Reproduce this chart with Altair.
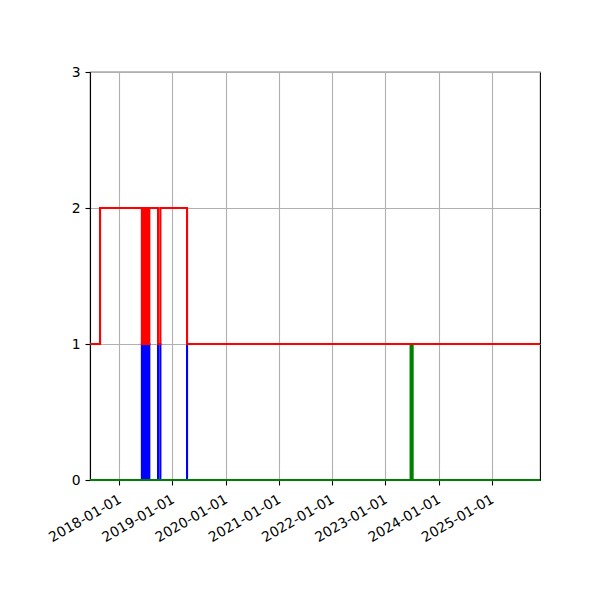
import altair as alt
import pandas as pd

# step series: change dates and the value held from that date on
red_dates = ["2017-06-14", "2017-08-22",
             "2018-06-05", "2018-06-12", "2018-06-16", "2018-06-20", "2018-06-24",
             "2018-06-27", "2018-07-01", "2018-07-05", "2018-07-09", "2018-07-12",
             "2018-07-16", "2018-07-19", "2018-07-22", "2018-07-26",
             "2018-09-24", "2018-10-10", "2019-04-11", "2025-11-27"]
red_values = [1, 2,
              1, 2, 1, 2, 1,
              2, 1, 2, 1, 2,
              1, 2, 1, 2,
              1, 2, 1, 1]

blue_dates = ["2017-06-14",
              "2018-06-05", "2018-06-12", "2018-06-16", "2018-06-20", "2018-06-24",
              "2018-06-27", "2018-07-01", "2018-07-05", "2018-07-09", "2018-07-12",
              "2018-07-16", "2018-07-19", "2018-07-22", "2018-07-26",
              "2018-09-24", "2018-10-10", "2019-04-11", "2025-11-27"]
blue_values = [0,
               1, 0, 1, 0, 1,
               0, 1, 0, 1, 0,
               1, 0, 1, 0,
               1, 0, 1, 1]

green_dates = ["2017-06-14", "2023-06-23", "2023-07-07", "2025-11-27"]
green_values = [0, 1, 0, 0]

y_ticks = [0, 1, 2, 3]
x_tick_years = [2018, 2019, 2020, 2021, 2022, 2023, 2024, 2025]


def frame(dates, values):
    return pd.DataFrame({"date": dates, "value": values})


x_scale = alt.Scale(
    domain=[alt.DateTime(year=2017, month=6, date=14),
            alt.DateTime(year=2025, month=11, date=27)],
    nice=False,
)
y_scale = alt.Scale(domain=[0, 3], nice=False)

x_axis = alt.Axis(
    values=[alt.DateTime(year=y, month=1, date=1) for y in x_tick_years],
    format="%Y-%m-%d", formatType="time",
    labelAngle=330, labelAlign="right", labelBaseline="top",
    labelPadding=7, labelOffset=-3, labelFontSize=13.9, labelColor="black",
    labelOverlap=False, labelFlush=False,
    tickSize=5, tickColor="black", tickWidth=1.1,
    domainColor="black", domainWidth=1.1,
    grid=True, gridColor="#b0b0b0", gridWidth=1.1,
    title=None,
)
y_axis = alt.Axis(
    values=y_ticks, format="d",
    labelPadding=5, labelFontSize=13.9, labelColor="black",
    labelOverlap=False, labelFlush=False,
    tickSize=5, tickColor="black", tickWidth=1.1,
    domainColor="black", domainWidth=1.1,
    grid=True, gridColor="#b0b0b0", gridWidth=1.1,
    title=None,
)


def step_layer(df, color):
    return alt.Chart(df).mark_line(
        interpolate="step-after", color=color, strokeWidth=2.1
    ).encode(
        x=alt.X("date:T", scale=x_scale, axis=x_axis),
        y=alt.Y("value:Q", scale=y_scale, axis=y_axis),
    )


chart = alt.layer(
    step_layer(frame(blue_dates, blue_values), "blue"),
    step_layer(frame(green_dates, green_values), "green"),
    step_layer(frame(red_dates, red_values), "red"),
).properties(
    width=450, height=408,
    autosize=alt.AutoSizeParams(type="none"),
    padding={"left": 82, "top": 64, "right": 50, "bottom": 100},
).configure_view(
    stroke="black", strokeWidth=1.1
).configure_axis(
    labelFont="DejaVu Sans"
)

chart.save("out.html", embed_options={"renderer": "svg", "actions": False})
